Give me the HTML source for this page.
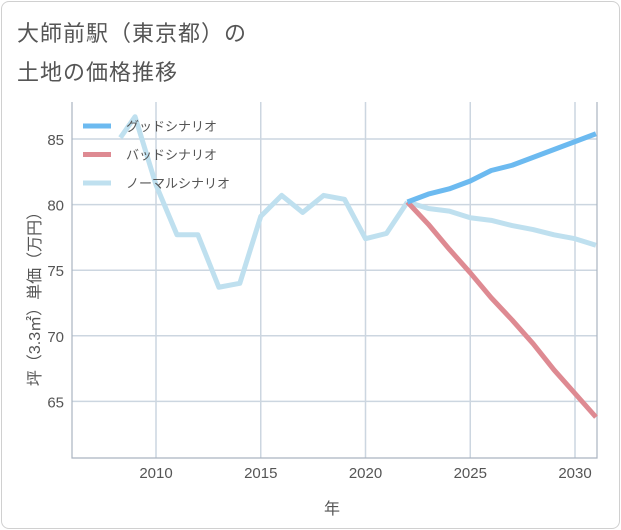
<!DOCTYPE html>
<html><head><meta charset="utf-8"><style>
body{margin:0;background:#fff;font-family:"Liberation Sans","Noto Sans CJK JP",sans-serif}
#card{position:absolute;left:1px;top:1px;width:617px;height:526px;border:1px solid #d0d0d0;border-radius:8px;background:#fff}
.t{position:absolute;left:17px;font-size:22px;color:#555;letter-spacing:1px}
</style></head><body>
<div id="card"></div>
<div class="t" style="top:16px">大師前駅（東京都）の</div>
<div class="t" style="top:55px">土地の価格推移</div>
<svg id="c" width="621" height="530" style="position:absolute;left:0;top:0"></svg>
<script>
const yearsHist=[2008.3,2009,2010,2011,2012,2013,2014,2015,2016,2017,2018,2019,2020,2021,2022];
const normalHist=[85.1,86.7,81.5,77.7,77.7,73.7,74.0,79.1,80.7,79.4,80.7,80.4,77.4,77.8,80.2];
const yearsFut=[2022,2023,2024,2025,2026,2027,2028,2029,2030,2031];
const normalFut=[80.2,79.7,79.5,79.0,78.8,78.4,78.1,77.7,77.4,76.9];
const good=[80.2,80.8,81.2,81.8,82.6,83.0,83.6,84.2,84.8,85.4];
const bad=[80.2,78.5,76.6,74.8,72.9,71.2,69.4,67.4,65.6,63.8];
const xTicks=[2010,2015,2020,2025,2030];
const yTicks=[65,70,75,80,85];
const L=72,R=597,T=102,B=458;
const x=v=>156+(v-2010)*20.95;
const y=v=>139-(v-85)*13.12;
const svg=document.getElementById('c');
const NS='http://www.w3.org/2000/svg';
function mk(tag,at,parent){const e=document.createElementNS(NS,tag);for(const k in at)e.setAttribute(k,at[k]);(parent||svg).appendChild(e);return e;}
xTicks.forEach(t=>{
 const g=mk('line',{x1:x(t),x2:x(t),y1:T,y2:B,stroke:'#ccd6e0','stroke-width':1.5});
 
 
 const l=mk('text',{x:x(t),y:478,'text-anchor':'middle','font-size':15,fill:'#555'});l.textContent=t;
 
 
});
yTicks.forEach(t=>{
 const g=mk('line',{x1:L,x2:R,y1:y(t),y2:y(t),stroke:'#ccd6e0','stroke-width':1.5});
 
 
 const l=mk('text',{x:64,y:y(t)+6,'text-anchor':'end','font-size':15,fill:'#555'});l.textContent=t;
 
 
});
const ax=mk('path',{d:`M${L} ${T}V${B}H${R}V${T}`,fill:'none',stroke:'#aab4c0','stroke-width':1.2});


function line(xs,vs,col,name){
 const p=mk('polyline',{points:xs.map((v,i)=>x(v)+','+y(vs[i])).join(' '),fill:'none',stroke:col,'stroke-width':5,'stroke-linejoin':'round'});
 
 
}
const cp=mk('clipPath',{id:'cp'});mk('rect',{x:L,y:T,width:R-L,height:B-T},cp);
line(yearsHist,normalHist,'#bfe0ef','normal-history-line');
line(yearsFut,normalFut,'#bfe0ef','normal-scenario-line');
line(yearsFut,bad,'#de8a92','bad-scenario-line');
line(yearsFut,good,'#6cbaf0','good-scenario-line');
const leg=[['グッドシナリオ','#6cbaf0'],['バッドシナリオ','#de8a92'],['ノーマルシナリオ','#bfe0ef']];
leg.forEach((d,i)=>{
 const yy=126+i*28.5;
 const s=mk('line',{x1:83,x2:111,y1:yy,y2:yy,stroke:d[1],'stroke-width':5});
 
 
 const t=mk('text',{x:126,y:yy+5,'font-size':13,fill:'#555'});t.textContent=d[0];
 
 
});
const xt=mk('text',{x:332,y:514,'text-anchor':'middle','font-size':16,fill:'#555'});xt.textContent='年';


const yt=mk('text',{x:0,y:0,'text-anchor':'middle','font-size':16,fill:'#555',transform:'translate(40,295) rotate(-90)'});yt.textContent='坪（3.3㎡）単価（万円）';


</script>
</body></html>
